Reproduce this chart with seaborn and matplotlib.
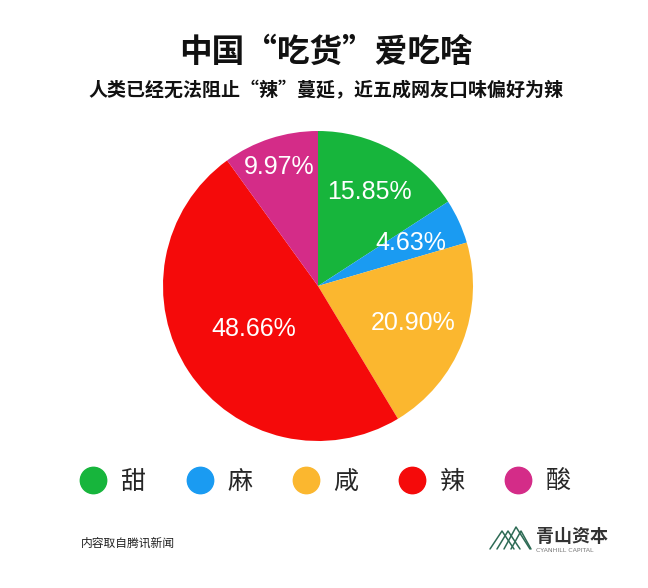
import numpy as np
import matplotlib
matplotlib.use('Agg')
from matplotlib import pyplot as plt
from matplotlib.lines import Line2D
import seaborn as sns

# data
tastes = ['甜', '麻', '咸', '辣', '酸']
shares = [15.85, 4.63, 20.90, 48.66, 9.97]
palette = ['#17B53C', '#1A9BF2', '#FBB72F', '#F50A0A', '#D42C88']

title = '中国“吃货”爱吃啥'
subtitle = '人类已经无法阻止“辣”蔓延，近五成网友口味偏好为辣'
source = '内容取自腾讯新闻'

sns.set_theme(style='white')
plt.rcParams['font.family'] = ['Noto Sans CJK SC', 'DejaVu Sans']

W, H = 648, 588
fig = plt.figure(figsize=(W / 100, H / 100), dpi=100)
fig.patch.set_facecolor('white')

# pie axes: centre (318, 286), radius 155 px
cx, cy, r = 318, 286, 155
ax = fig.add_axes([(cx - r) / W, (H - cy - r) / H, 2 * r / W, 2 * r / H])
wedges, _ = ax.pie(shares, colors=palette, startangle=90, counterclock=False,
                   radius=1, wedgeprops=dict(linewidth=0))
ax.set_xlim(-1, 1)
ax.set_ylim(-1, 1)
ax.set_aspect('equal')
ax.axis('off')

# percent labels, each at its own distance from the centre
label_r = [0.69, 0.66, 0.66, 0.50, 0.81]
for w, v, lr in zip(wedges, shares, label_r):
    ang = np.deg2rad((w.theta1 + w.theta2) / 2)
    ax.text(lr * np.cos(ang), lr * np.sin(ang), f'{v:.2f}%', color='white',
            fontsize=18, ha='center', va='center', family='Liberation Sans')

fig.text(0.503, 1 - 52 / H, title, ha='center', va='center',
         fontsize=23.5, fontweight='bold', color='#111111')
fig.text(0.503, 1 - 91 / H, subtitle, ha='center', va='center',
         fontsize=13.7, fontweight='bold', color='#111111')

handles = [Line2D([], [], marker='o', linestyle='', markersize=19,
                  markerfacecolor=c, markeredgecolor=c) for c in palette]
fig.legend(handles, tastes, loc='center', bbox_to_anchor=(0.502, 1 - 482 / H),
           ncol=5, frameon=False, fontsize=18, handlelength=1.1,
           handletextpad=0.55, columnspacing=1.6)

fig.text(81 / W, 1 - 543 / H, source, ha='left', va='center',
         fontsize=8.5, color='#222222')

# logo
green = '#2E6B55'
peaks = [[(490, 549), (502, 531), (514, 549)],
         [(497, 549), (508, 531), (520, 549)],
         [(504, 549), (516, 527), (530, 549)],
         [(511, 549), (521, 531), (531, 549)]]
for pts in peaks:
    xs = [p[0] / W for p in pts]
    ys = [1 - p[1] / H for p in pts]
    fig.add_artist(Line2D(xs, ys, color=green, linewidth=1.1))
fig.text(536 / W, 1 - 536 / H, '青山资本', ha='left', va='center',
         fontsize=13, fontweight='bold', color='#333333')
fig.text(536 / W, 1 - 550 / H, 'CYANHILL CAPITAL', ha='left', va='center',
         fontsize=4.5, color='#777777', family='DejaVu Sans')

fig.savefig('out.png', dpi=100, facecolor='white')
